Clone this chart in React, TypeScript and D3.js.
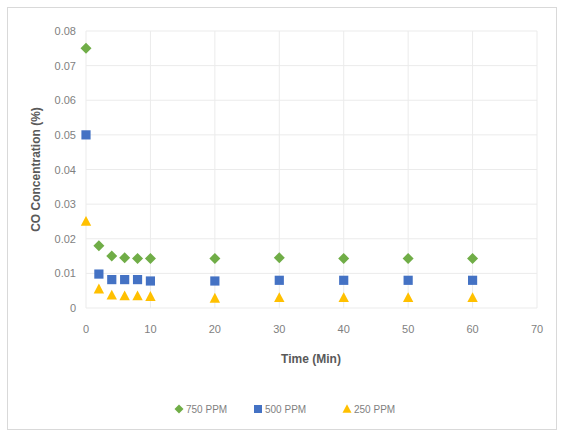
import React from "react";
import * as d3 from "d3";

const times = [0, 2, 4, 6, 8, 10, 20, 30, 40, 50, 60];
const ppm750 = [0.075, 0.018, 0.015, 0.0145, 0.0143, 0.0143, 0.0143, 0.0145, 0.0143, 0.0143, 0.0143];
const ppm500 = [0.05, 0.0098, 0.0082, 0.0082, 0.0082, 0.0078, 0.0078, 0.008, 0.008, 0.008, 0.008];
const ppm250 = [0.025, 0.0055, 0.0037, 0.0035, 0.0035, 0.0033, 0.0028, 0.003, 0.003, 0.003, 0.003];
const xTicks = [0, 10, 20, 30, 40, 50, 60, 70];
const yTicks = [0, 0.01, 0.02, 0.03, 0.04, 0.05, 0.06, 0.07, 0.08];
const seriesNames = ["750 PPM", "500 PPM", "250 PPM"];
const seriesColors = ["#70AD47", "#4472C4", "#FFC000"];

function marker(kind: number, r: number) {
  if (kind === 0) return `M0,${-r}L${r},0L0,${r}L${-r},0Z`;
  if (kind === 1) return `M${-r},${-r}H${r}V${r}H${-r}Z`;
  return `M0,${-r * 1.05}L${r},${r * 0.85}L${-r},${r * 0.85}Z`;
}

export default function App() {
  const W = 562, H = 437;
  const x = d3.scaleLinear().domain([0, 70]).range([86, 537]);
  const y = d3.scaleLinear().domain([0, 0.08]).range([308, 31]);
  const font = "'Liberation Sans', Arial, sans-serif";
  const radii = [5.5, 4.6, 5.2];
  const data = [ppm750, ppm500, ppm250];
  const legendX = [179, 258, 347];
  return (
    <svg width={W} height={H} style={{ position: "absolute", left: 0, top: 0 }}>
      <rect x={0} y={0} width={W} height={H} fill="#fff" />
      <rect x={7.5} y={7.5} width={549} height={422} fill="#fff" stroke="#d9d9d9" />
      {yTicks.map((t) => (
        <g key={"y" + t}>
          <line x1={x(0)} x2={x(70)} y1={y(t)} y2={y(t)} stroke="#ebebeb" />
          <text x={76} y={y(t) + 4} fontSize={11} fill="#7f7f7f" textAnchor="end" fontFamily={font}>
            {t === 0 ? "0" : t.toFixed(2)}
          </text>
        </g>
      ))}
      {xTicks.map((t) => (
        <g key={"x" + t}>
          <line x1={x(t)} x2={x(t)} y1={y(0)} y2={y(0.08)} stroke="#ebebeb" />
          <text x={x(t)} y={333} fontSize={11} fill="#7f7f7f" textAnchor="middle" fontFamily={font}>
            {t}
          </text>
        </g>
      ))}
      <text x={311} y={363} fontSize={12} fontWeight="bold" fill="#595959" textAnchor="middle" fontFamily={font}>
        Time (Min)
      </text>
      <text transform={`translate(40,${y(0.04)}) rotate(-90)`} fontSize={12} fontWeight="bold" fill="#595959" textAnchor="middle" fontFamily={font}>
        CO Concentration (%)
      </text>
      {data.map((vals, si) =>
        vals.map((v, i) => (
          <path
            key={si + "-" + i}
            d={marker(si, radii[si])}
            transform={`translate(${x(times[i])},${y(v)})`}
            fill={seriesColors[si]}
          />
        ))
      )}
      {seriesNames.map((n, si) => (
        <g key={n}>
          <path
            d={marker(si, si === 1 ? 4 : 4.5)}
            transform={`translate(${legendX[si]},${409})`}
            fill={seriesColors[si]}
          />
          <text x={legendX[si] + 7} y={413} fontSize={10} fill="#7f7f7f" fontFamily={font}>
            {n}
          </text>
        </g>
      ))}
    </svg>
  );
}
